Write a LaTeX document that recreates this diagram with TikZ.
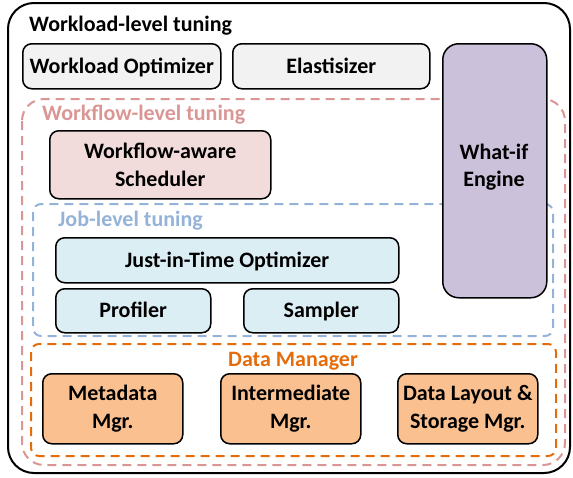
\documentclass[tikz,border=0pt]{standalone}
\usepackage{fontspec}
\setmainfont{Carlito}
\definecolor{grayfill}{HTML}{F2F2F2}
\definecolor{lavender}{HTML}{CCC1DA}
\definecolor{pinkfill}{HTML}{F2DCDB}
\definecolor{bluefill}{HTML}{DBEEF4}
\definecolor{orangefill}{HTML}{FAC090}
\definecolor{pinkline}{HTML}{DA9694}
\definecolor{blueline}{HTML}{95B3D7}
\definecolor{orangeline}{HTML}{E46C0A}
\tikzset{
  every node/.style={font=\fontsize{22}{27.5}\selectfont\bfseries, inner sep=0pt, align=center},
  comp/.style={draw=black, line width=1.5pt, rounded corners=9pt, anchor=north west},
  oneline/.style={text height=19pt, text depth=5pt},
  group/.style={line width=2pt, dash pattern=on 9pt off 6pt},
  grouplabel/.style={anchor=west, oneline},
}
\begin{document}
\begin{tikzpicture}[x=1pt,y=-1pt]
\useasboundingbox (0,0) rectangle (573,477);
% outer frame: workload level
\draw[line width=2pt, rounded corners=26pt] (8,3) rectangle (570,473);
\node[grouplabel] (wll) at (29,24) {Workload-level tuning};
% workflow level group
\draw[group, draw=pinkline, rounded corners=22pt] (22,99) rectangle (565,465);
\node[grouplabel, text=pinkline] (wfl) at (42,113) {Workflow-level tuning};
% job level group
\draw[group, draw=blueline, rounded corners=8pt] (33,204) rectangle (553,336);
\node[grouplabel, text=blueline] (jbl) at (58,219) {Job-level tuning};
% data manager group
\draw[group, draw=orangeline, rounded corners=8pt] (31,344) rectangle (556,456);
\node[oneline, text=orangeline] (dml) at (293,359) {Data Manager};
% components
\node[comp, oneline, fill=grayfill, minimum width=198pt, minimum height=45pt] (wo) at (22,43) {Workload Optimizer};
\node[comp, oneline, fill=grayfill, minimum width=197pt, minimum height=45pt] (el) at (232,43) {Elastisizer};
\node[comp, fill=lavender, rounded corners=16pt, minimum width=104pt, minimum height=254pt] (wi) at (442,43) {};
\node (wit) at (494,167) {What-if\\Engine};
\node[comp, fill=pinkfill, minimum width=221pt, minimum height=68pt] (ws) at (49,130) {Workflow-aware\\Scheduler};
\node[comp, oneline, fill=bluefill, minimum width=343pt, minimum height=45pt] (jit) at (55,237) {Just-in-Time Optimizer};
\node[comp, oneline, fill=bluefill, minimum width=155pt, minimum height=44pt] (pr) at (55,288) {Profiler};
\node[comp, oneline, fill=bluefill, minimum width=155pt, minimum height=44pt] (sa) at (243,288) {Sampler};
\node[comp, fill=orangefill, minimum width=140pt, minimum height=70pt] (md) at (42,373) {Metadata\\Mgr.};
\node[comp, fill=orangefill, minimum width=140pt, minimum height=70pt] (im) at (220,373) {Intermediate\\Mgr.};
\node[comp, fill=orangefill, minimum width=140pt, minimum height=70pt] (dl) at (397,373) {Data Layout \&\\Storage Mgr.};
\end{tikzpicture}
\end{document}
